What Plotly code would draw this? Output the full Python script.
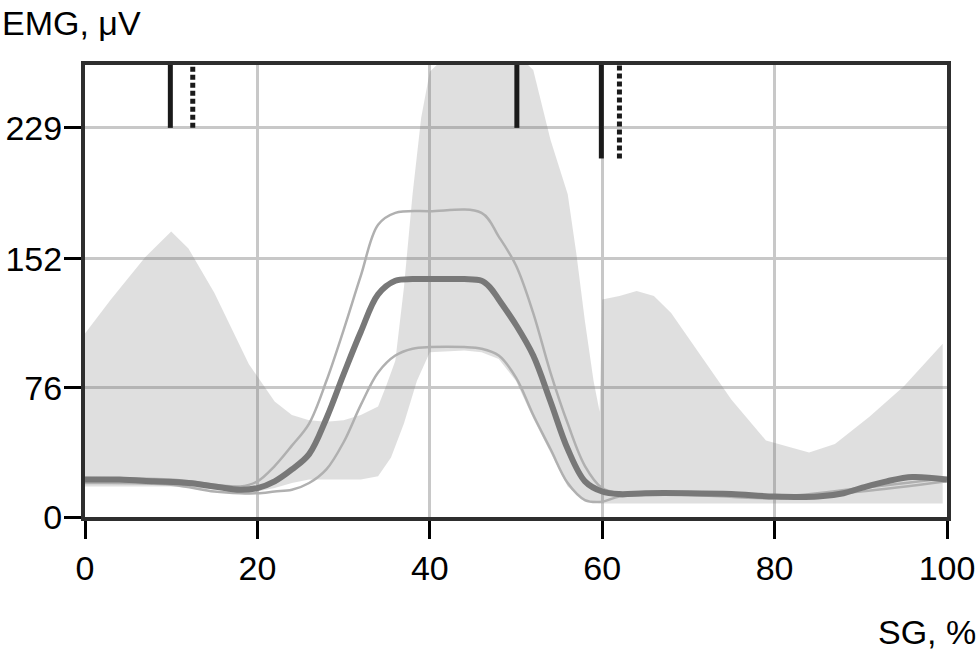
import plotly.graph_objects as go

# --- data ---
x_ticks = [0, 20, 40, 60, 80, 100]
y_ticks = [0, 76, 152, 229]
y_max = 266

# mean EMG curve
mean_x = [0, 4, 8, 12, 15, 18, 20, 22, 24, 26, 28, 30, 32, 34, 36, 38, 40, 42, 44, 46, 47, 48,
          50, 52, 54, 56, 58, 60, 62, 65, 70, 75, 80, 85, 88, 90, 93, 96, 100]
mean_y = [22, 22, 21, 20, 18, 16, 17, 21, 28, 37, 58, 84, 109, 131, 139, 140, 140, 140, 140, 139, 135, 128,
          113, 95, 68, 40, 21, 15, 13.5, 14, 14, 13.5, 12, 12, 14, 17, 21, 23.5, 22]

# mean + SD
upper_x = [0, 10, 18, 20, 22, 24, 26, 28, 30, 32, 34, 36, 40, 46, 48, 50, 52, 54, 56, 58, 60, 62, 70, 80, 90, 100]
upper_y = [23, 22, 18, 21, 30, 42, 55, 80, 110, 142, 172, 179, 180, 179, 165, 148, 120, 85, 55, 30, 17, 14, 14, 12, 17, 23]

# mean - SD
lower_x = [0, 10, 15, 18, 20, 22, 24, 26, 28, 30, 32, 34, 36, 38, 40, 44, 46, 48, 50, 52, 54, 56, 58, 60, 62,
           70, 80, 90, 100]
lower_y = [20, 19, 15, 14, 14, 15, 16, 20, 28, 44, 66, 85, 95, 99, 100, 100, 99, 95, 82, 60, 40, 20, 10, 9, 12,
           13, 11, 15, 21]

# normative band (grey area): top and bottom edges
band_top_x = [0, 3, 7, 10, 12, 15, 19, 22, 24, 26, 28, 30, 32, 34, 35, 36, 37, 38, 39, 40, 42, 48, 51, 52, 54,
              56, 57, 58, 59, 59.7, 60, 62, 64, 66, 68, 71, 75, 79, 84, 87, 91, 95, 99.5]
band_top_y = [108, 128, 153, 168, 158, 132, 90, 68, 60, 57, 56, 57, 60, 65, 78, 92, 135, 190, 235, 262, 272, 272,
              268, 263, 222, 190, 155, 115, 80, 62, 128, 130, 133, 130, 120, 98, 69, 45, 38, 43, 59, 77, 102]
band_bot_x = [0, 10, 18, 20, 22, 24, 26, 28, 30, 32, 34, 35.5, 37, 38.5, 40, 44, 46, 48, 50, 52, 54, 56, 58, 60,
              80, 99.5]
band_bot_y = [18, 18, 15, 15, 17, 20, 22, 22, 22, 22, 24, 35, 55, 80, 97, 98, 97, 93, 80, 58, 38, 18, 9, 8,
              8, 8]

# stride event markers at the top
event_x = [9.9, 12.5, 50.1, 59.9, 62.0]
event_end = [229, 229, 229, 211, 211]
event_dash = ["solid", "5px,3px", "solid", "solid", "5px,3px"]

font_family = "Liberation Sans, Arial, sans-serif"
font_size = 34

fig = go.Figure()

# grey band as one closed polygon
fig.add_trace(go.Scatter(
    x=band_top_x + band_bot_x[::-1], y=band_top_y + band_bot_y[::-1],
    fill="toself", fillcolor="rgba(110,110,110,0.22)", line=dict(width=0),
    mode="lines", hoverinfo="skip", showlegend=False))

for xs, ys in [(upper_x, upper_y), (lower_x, lower_y)]:
    fig.add_trace(go.Scatter(x=xs, y=ys, mode="lines", line=dict(color="#b0b0b0", width=2.5, shape="spline"),
                             showlegend=False))

fig.add_trace(go.Scatter(x=mean_x, y=mean_y, mode="lines", line=dict(color="#787878", width=6, shape="spline"),
                         showlegend=False))

for ex, ey, dash in zip(event_x, event_end, event_dash):
    fig.add_trace(go.Scatter(x=[ex, ex], y=[ey, y_max], mode="lines",
                             line=dict(color="#1a1a1a", width=5, dash=dash), showlegend=False))

axis_common = dict(
    showgrid=True, gridcolor="#c8c8c8", gridwidth=3,
    showline=True, linecolor="#2e2e2e", linewidth=4, mirror=True,
    ticks="outside", tickwidth=3, tickcolor="black",
    tickfont=dict(family=font_family, size=font_size, color="black"),
    zeroline=False, fixedrange=True, automargin=False,
)

fig.update_xaxes(range=[0, 100], tickvals=x_ticks, ticklen=18, **axis_common)
fig.update_yaxes(range=[0, y_max], tickvals=y_ticks, ticklen=17, ticklabelstandoff=-5, **axis_common)

fig.add_annotation(text="EMG, μV", xref="paper", yref="paper", x=-0.0986, y=1.14,
                   xanchor="left", yanchor="top", showarrow=False,
                   font=dict(family=font_family, size=font_size, color="black"))
fig.add_annotation(text="SG, %", xref="paper", yref="paper", x=1.036, y=-0.254,
                   xanchor="right", yanchor="middle", showarrow=False,
                   font=dict(family=font_family, size=font_size, color="black"))

fig.update_layout(
    width=980, height=655,
    margin=dict(l=85, r=33, t=65, b=138),
    plot_bgcolor="white", paper_bgcolor="white",
    showlegend=False,
)

fig.write_html("out.html", config={"displayModeBar": False},
               post_script="document.body.style.margin='0';")
